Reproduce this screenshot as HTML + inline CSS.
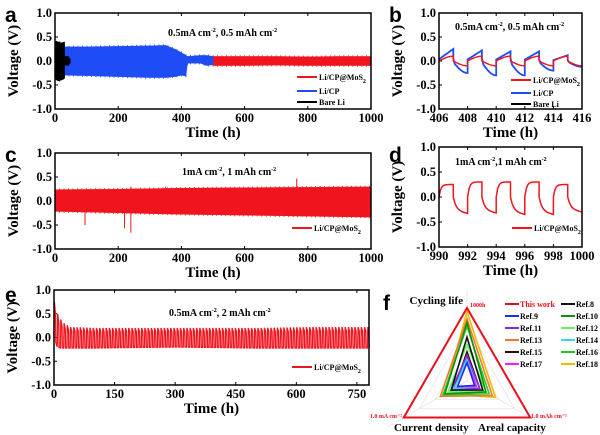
<!DOCTYPE html>
<html><head><meta charset="utf-8"><style>
body{margin:0;background:#fff;}
svg{display:block;font-family:"Liberation Serif",serif;font-weight:bold;}
.pl{font-family:"Liberation Sans",sans-serif;font-size:21px;font-weight:bold;}
</style></head><body>
<svg id="fig" width="600" height="435" viewBox="0 0 600 435" xmlns="http://www.w3.org/2000/svg"></svg>
<script>
// ---- data ----
const aBlackT=[0,5,10,20,28,30];const aBlackU=[0.4,0.42,0.4,0.38,0.4,0.38];const aBlackL=[-0.38,-0.4,-0.42,-0.4,-0.38,-0.35];
const aBlackT2=[30,40,48];const aBlackU2=[0.1,0.1,0.05];const aBlackL2=[-0.08,-0.1,-0.05];
const aBlueT=[30,100,200,300,350,380,400,415,420,460,480,500];
const aBlueU=[0.3,0.3,0.31,0.32,0.33,0.25,0.18,0.12,0.1,0.12,0.12,0.1];
const aBlueL=[-0.3,-0.31,-0.33,-0.35,-0.35,-0.33,-0.3,-0.32,-0.05,-0.05,-0.1,-0.08];
const aRedT=[500,600,700,800,900,1000];const aRedU=[0.1,0.1,0.1,0.09,0.1,0.1];const aRedL=[-0.1,-0.1,-0.09,-0.1,-0.1,-0.1];
const bRedPeak=[0.1,0.1,0.1,0.1,0.1];const bRedTrough=[-0.1,-0.1,-0.1,-0.1,-0.1];
const bBluePeak=[0.25,0.22,0.2,0.2,0.12];const bBlueTrough=[-0.25,-0.3,-0.3,-0.2,-0.12];
const cT=[0,200,400,600,800,1000];const cU=[0.24,0.25,0.27,0.28,0.29,0.3];const cL=[-0.22,-0.25,-0.28,-0.3,-0.32,-0.34];
const cSpikeT=[95,220,240,240,350,765];const cSpikeV=[-0.5,-0.57,-0.66,0.3,0.3,0.47];
const dPeak=[0.25,0.3,0.3,0.3,0.25];const dTrough=[-0.33,-0.32,-0.35,-0.35,-0.3];
const eT=[0,8,16,24,40,100,300,500,650,780];const eU=[0.75,0.5,0.38,0.3,0.22,0.2,0.2,0.2,0.22,0.22];const eL=[0,-0.2,-0.22,-0.22,-0.22,-0.22,-0.2,-0.22,-0.22,-0.22];
const fNames=["This work","Ref.8","Ref.9","Ref.10","Ref.11","Ref.12","Ref.13","Ref.14","Ref.15","Ref.16","Ref.17","Ref.18"];
const fColors=["#e8101e","#111","#1a2cf0","#129012","#8a2be2","#5cf05c","#f07b2a","#3cd8e8","#3a0a0a","#20d020","#f020f0","#f5b800"];
const fLife=[1,0.6,0.25,0.8,0.35,0.5,0.85,0.3,0.4,0.75,0.3,0.95];
const fCurr=[1,0.25,0.15,0.35,0.25,0.3,0.42,0.2,0.2,0.38,0.2,0.35];
const fCap=[1,0.25,0.12,0.3,0.2,0.3,0.4,0.2,0.2,0.35,0.15,0.45];

const svg=document.getElementById('fig');const NS='http://www.w3.org/2000/svg';
function el(tag,attrs,parent,txt){const e=document.createElementNS(NS,tag);for(const k in attrs)e.setAttribute(k,attrs[k]);if(txt!==undefined)e.textContent=txt;(parent||svg).appendChild(e);return e;}
function lerp(T,V,t){if(t<=T[0])return V[0];for(let i=1;i<T.length;i++){if(t<=T[i]){const f=(t-T[i-1])/(T[i]-T[i-1]);return V[i-1]+f*(V[i]-V[i-1]);}}return V[V.length-1];}

function panel(name,x0,y0,x1,y1,xmin,xmax,xticks,letter,lx,ly){
  const g=el('g',{});
  const sx=t=>x0+(t-xmin)/(xmax-xmin)*(x1-x0);const sy=v=>y0+(1-v)/2*(y1-y0);
  const t=el('text',{x:lx,y:ly,class:'pl'},g,letter);
  [1,0.5,0,-0.5,-1].forEach(v=>{const tl=el('text',{x:x0-3,y:sy(v)+4,'text-anchor':'end','font-size':12.5},g,v.toFixed(1));
    el('line',{x1:x0,x2:x0+3,y1:sy(v),y2:sy(v),stroke:'#000'},g);});
  xticks.forEach(v=>{const tl=el('text',{x:sx(v),y:y1+13,'text-anchor':'middle','font-size':12.5},g,String(v));
    el('line',{x1:sx(v),x2:sx(v),y1:y1,y2:y1-3,stroke:'#000'},g);el('line',{x1:sx(v),x2:sx(v),y1:y0,y2:y0+3,stroke:'#000'},g);});
  const xt=el('text',{x:(x0+x1)/2,y:y1+28,'text-anchor':'middle','font-size':15},g,'Time (h)');
  const yt=el('text',{x:0,y:0,'text-anchor':'middle','font-size':15,transform:`translate(${x0-37},${(y0+y1)/2}) rotate(-90)`},g,'Voltage (V)');
  const plot=el('g',{},g);
  return {g,plot,sx,sy,box:()=>{const b=el('rect',{x:x0,y:y0,width:x1-x0,height:y1-y0,fill:'none',stroke:'#000','stroke-width':1.5},g);}};
}
function band(P,T,U,L,color,name){let d='';for(let i=0;i<T.length;i++)d+=(i?'L':'M')+P.sx(T[i])+','+P.sy(U[i]);for(let i=T.length-1;i>=0;i--)d+='L'+P.sx(T[i])+','+P.sy(L[i]);
  const p=el('path',{d:d+'Z',fill:color},P.plot);
  let e='';const n=Math.max(2,Math.round((P.sx(T[T.length-1])-P.sx(T[0]))/1.5));
  for(let k=0;k<=n;k++){const t=T[0]+(T[T.length-1]-T[0])*k/n;const j=(k%3===0)?0.02:0;e+='M'+P.sx(t)+','+P.sy(lerp(T,U,t)+j)+'L'+P.sx(t)+','+P.sy(lerp(T,L,t)-j);}
  el('path',{d:e,stroke:color,'stroke-width':0.8},P.plot);}
function legend(P,x,y,color,label,sub){el('line',{x1:x,x2:x+20,y1:y,y2:y,stroke:color,'stroke-width':2},P.g);
  const t=el('text',{x:x+22,y:y+3,'font-size':8},P.g,label);
  if(sub)el('tspan',{dy:3,'font-size':6},t,'2');}
// mode: 'ramp' (jump then linear growth), 'sat' (saturating), 'smooth'
function wave(P,t0,peaks,troughs,color,w,name,mode){let d='';
  for(let i=0;i<peaks.length;i++){const ts=t0+2*i;
    for(let k=0;k<=10;k++){const t=ts+k/10;let f;
      if(mode==='ramp')f=0.15+0.85*k/10;else if(mode==='sat')f=1-Math.exp(-k*0.8);else f=Math.sin(Math.PI/2*k/10);
      d+=(d?'L':'M')+P.sx(t)+','+P.sy(peaks[i]*f);}
    for(let k=0;k<=10;k++){const t=ts+1+k/10;let f;
      if(mode==='ramp')f=k===0?-0.2:(0.1+0.9*Math.sin(Math.PI/2*k/10));else if(mode==='sat')f=(1-Math.exp(-k*0.5))*0.8+0.2*k/10;else f=Math.sin(Math.PI/2*k/10);
      d+='L'+P.sx(t)+','+P.sy(troughs[i]*f);}}
  const p=el('path',{d,fill:'none',stroke:color,'stroke-width':w},P.plot);}
function note(P,x,y,a,b){const t=el('text',{x,y,'font-size':10},P.g);
  t.appendChild(document.createTextNode(a));el('tspan',{dy:-4,'font-size':6},t,'-2');el('tspan',{dy:4},t,b);el('tspan',{dy:-4,'font-size':6},t,'-2');}

// a
const A=panel('panel-a-chart',55,13,371,109,0,1000,[0,200,400,600,800,1000],'a',5,22);
band(A,aRedT,aRedU,aRedL,'#f0151e','series-li-cp-mos2');
band(A,aBlueT,aBlueU,aBlueL,'#1f4df5','series-li-cp');
band(A,aBlackT,aBlackU,aBlackL,'#000','series-bare-li');band(A,aBlackT2,aBlackU2,aBlackL2,'#000','series-bare-li-tail');
A.box();note(A,168,36,'0.5mA cm',', 0.5 mAh cm');
legend(A,297,77,'#f0151e','Li/CP@MoS',1);legend(A,297,91,'#1f4df5','Li/CP');legend(A,297,102,'#000','Bare Li');
// b
const B=panel('panel-b-chart',439,13,582,109,406,416,[406,408,410,412,414,416],'b',389,22);
wave(B,406,bBluePeak,bBlueTrough,'#1f4df5',1.8,'series-li-cp','ramp');
wave(B,406,bRedPeak,bRedTrough,'#f0151e',1.4,'series-li-cp-mos2','smooth');
B.box();note(B,455,30,'0.5mA cm',', 0.5 mAh cm');
legend(B,511,80,'#f0151e','Li/CP@MoS',1);legend(B,511,93,'#1f4df5','Li/CP');legend(B,511,104,'#000','Bare Li');
// c
const C=panel('panel-c-chart',55,153,371,249,0,1000,[0,200,400,600,800,1000],'c',5,162);
band(C,cT,cU,cL,'#f0151e','series-li-cp-mos2');
cSpikeT.forEach((t,i)=>{const s=el('line',{x1:C.sx(t),x2:C.sx(t),y1:C.sy(0),y2:C.sy(cSpikeV[i]),stroke:'#f0151e','stroke-width':1},C.plot);});
C.box();note(C,182,175,'1mA cm',', 1 mAh cm');legend(C,292,228,'#f0151e','Li/CP@MoS',1);
// d
const D=panel('panel-d-chart',439,147,582,247,990,1000,[990,992,994,996,998,1000],'d',389,162);
wave(D,990,dPeak,dTrough,'#f0151e',1.5,'series-li-cp-mos2','sat');
D.box();note(D,455,165,'1mA cm',',1 mAh cm');legend(D,512,228,'#f0151e','Li/CP@MoS',1);
// e
const E=panel('panel-e-chart',54,290,369,385,0,780,[0,150,300,450,600,750],'e',5,302);
(function(){let d='';for(let t=0;t<=780;t+=8){d+=(d?'L':'M')+E.sx(t)+','+E.sy(lerp(eT,eL,t));d+='L'+E.sx(t+1)+','+E.sy(lerp(eT,eU,t));d+='L'+E.sx(t+4)+','+E.sy(lerp(eT,eU,t)*0.6);d+='L'+E.sx(t+4.5)+','+E.sy(lerp(eT,eL,t+4));}
 const p=el('path',{d,fill:'none',stroke:'#f0151e','stroke-width':1.3},E.plot);})();
E.box();note(E,169,316,'0.5mA cm',', 2 mAh cm');legend(E,292,367,'#f0151e','Li/CP@MoS',1);
// f radar
const F=el('g',{});
el('text',{x:383,y:310,class:'pl'},F,'f');
const cx=467,cy=381,R=73;const ang=[-90,150,30].map(a=>a*Math.PI/180);
const pt=(i,r)=>[cx+R*r*Math.cos(ang[i]),cy+R*r*Math.sin(ang[i])];
[0.25,0.5,0.75,1].forEach(r=>{el('polygon',{points:[0,1,2].map(i=>pt(i,r).join(',')).join(' '),fill:'none',stroke:'#ddd','stroke-width':0.6},F);});
[0,1,2].forEach(i=>{const p=pt(i,1.25);el('line',{x1:cx,y1:cy,x2:p[0],y2:p[1],stroke:'#ddd','stroke-width':0.6},F);});
for(let s=fNames.length-1;s>=0;s--){const poly=el('polygon',{points:[pt(0,fLife[s]),pt(1,fCurr[s]),pt(2,fCap[s])].map(p=>p.join(',')).join(' '),fill:'none',stroke:fColors[s],'stroke-width':s===0?2:1.6},F);
  }
el('text',{x:463,y:304,'text-anchor':'end','font-size':11},F,'Cycling life');
el('text',{x:470,y:307,'font-size':6,fill:'#e8101e'},F,'1000h');
el('text',{x:394,y:431,'font-size':11},F,'Current density');
el('text',{x:478,y:431,'font-size':11},F,'Areal capacity');
el('text',{x:402,y:418,'text-anchor':'end','font-size':6,fill:'#e8101e'},F,'1.0 mA cm⁻²');
el('text',{x:531,y:418,'font-size':6,fill:'#e8101e'},F,'1.0 mAh cm⁻²');
fNames.forEach((n,s)=>{const col=s%2,row=Math.floor(s/2);const x=col?561:505,y=304+row*12;
  el('line',{x1:x,x2:x+14,y1:y,y2:y,stroke:fColors[s],'stroke-width':2},F);
  const t=el('text',{x:x+15,y:y+3,'font-size':8,fill:s===0?'#e8101e':'#000'},F,n);});
</script>
</body></html>
